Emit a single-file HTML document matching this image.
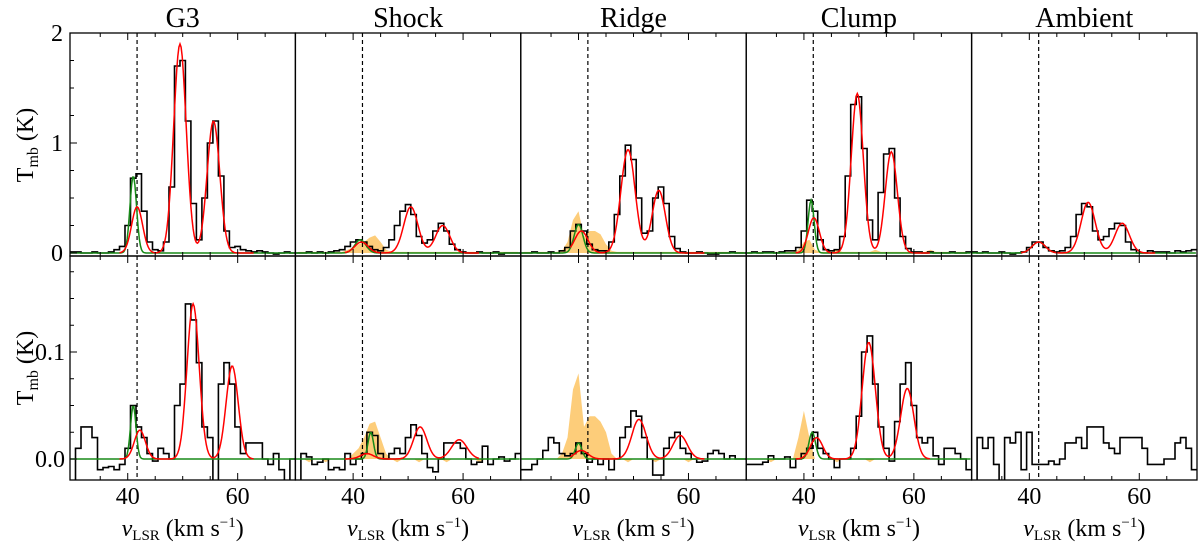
<!DOCTYPE html>
<html><head><meta charset="utf-8"><style>
html,body{margin:0;padding:0;background:#fff}
svg text{font-family:"Liberation Serif","DejaVu Serif","Noto Serif CJK SC",serif !important}
</style></head><body>
<svg id="chart" width="1200" height="547" viewBox="0 0 1200 547" xmlns="http://www.w3.org/2000/svg"></svg>
<script>
const panelNames = ["G3","Shock","Ridge","Clump","Ambient"];
const velocityStart = 30;
const xTicks = [40,60];
const topTicks = [0,1,2];
const botTicks = [0.0,0.1];
const vSys = 41.7;

const topG3 = [0.01,0.01,0.0,0.0,0.01,0.0,0.0,0.01,0.03,0.06,0.25,0.68,0.72,0.38,0.1,0.03,0.02,0.1,0.6,1.7,1.75,1.2,0.45,0.12,0.5,1.0,1.2,0.7,0.2,0.05,0.06,0.03,0.02,0.01,0.02,0.01,0.0,-0.01,0.0,0.01,0.0];
const topShock = [0.0,0.0,0.01,0.0,0.01,0.0,0.01,0.02,0.03,0.06,0.1,0.12,0.1,0.06,0.03,0.02,0.05,0.12,0.25,0.38,0.44,0.35,0.15,0.09,0.12,0.2,0.27,0.2,0.08,0.03,0.01,0.0,0.0,0.01,0.0,0.0,0.01,-0.01,0.0,0.0,0.0];
const topRidge = [0.0,0.0,0.01,0.0,0.0,0.01,0.0,0.02,0.05,0.2,0.26,0.2,0.08,0.03,0.02,0.02,0.1,0.35,0.7,0.98,0.85,0.5,0.18,0.2,0.5,0.6,0.45,0.15,0.04,0.01,0.0,0.0,0.01,0.0,-0.01,-0.01,0.0,0.0,0.01,0.0,0.0];
const topClump = [0.0,0.01,0.0,0.01,0.01,0.0,0.01,0.02,0.02,0.05,0.2,0.48,0.38,0.12,0.03,0.02,0.03,0.15,0.7,1.35,1.42,0.95,0.3,0.12,0.55,0.9,0.95,0.5,0.15,0.04,0.01,0.01,0.0,0.01,0.0,0.0,0.0,0.01,0.0,0.0,0.01];
const topAmbient = [0.01,0.0,0.01,0.0,0.0,0.01,0.0,-0.01,0.0,0.01,0.05,0.1,0.1,0.05,0.02,0.01,0.02,0.05,0.15,0.35,0.45,0.42,0.2,0.12,0.15,0.22,0.27,0.25,0.1,0.03,0.0,0.0,0.02,0.01,0.01,0.01,0.0,0.02,0.01,0.02,0.03];
const botG3 = [-0.02,0.01,0.03,0.03,0.02,-0.01,-0.008,-0.007,-0.01,-0.005,0.01,0.05,0.03,0.02,0.005,-0.002,0.01,0.005,0.0,0.05,0.07,0.145,0.13,0.09,0.03,0.02,-0.02,0.07,0.09,0.07,0.03,0.005,0.015,0.015,0.015,0.0,-0.005,0.005,-0.01,-0.02,0.0];
const botShock = [-0.02,0.005,0.002,-0.005,-0.003,0.0,-0.01,-0.008,-0.01,0.005,-0.005,0.0,0.005,0.025,0.022,0.005,0.0,0.005,0.01,0.005,0.02,0.032,0.022,0.005,-0.008,-0.012,0.0,0.015,0.015,0.015,0.01,0.0,-0.005,-0.003,0.012,-0.005,0.0,0.002,-0.002,0.0,0.005];
const botRidge = [-0.01,-0.01,-0.005,0.0,0.008,0.02,0.015,0.005,0.003,0.005,0.015,0.005,-0.003,0.0,-0.005,0.0,-0.01,0.0,0.02,0.03,0.045,0.04,0.02,0.0,-0.015,-0.015,0.01,0.02,0.025,0.01,0.005,0.0,-0.003,-0.002,0.005,0.008,0.005,0.0,0.003,0.0,0.0];
const botClump = [-0.005,-0.005,-0.005,-0.003,0.003,0.0,0.0,0.002,-0.008,0.0,0.005,0.01,0.025,0.01,0.005,0.0,-0.008,0.0,0.0,0.01,0.04,0.1,0.115,0.07,0.03,0.01,-0.002,0.035,0.07,0.09,0.05,0.02,0.015,0.02,0.003,-0.005,0.01,0.01,0.005,0.0,-0.01];
const botAmbient = [-0.02,0.02,0.01,0.02,-0.005,-0.02,0.02,0.015,0.025,-0.01,0.025,-0.005,-0.005,-0.005,-0.002,-0.005,0.0,0.015,0.015,0.02,0.01,0.03,0.03,0.03,0.015,0.01,0.005,0.02,0.02,0.02,0.02,0.01,-0.005,-0.005,-0.005,0.0,0.0,0.015,0.02,0.01,-0.01];

const orShockTop = [0.01,0.01,0.01,0.01,0.01,0.01,0.01,0.01,0.01,0.03,0.05,0.08,0.1,0.14,0.16,0.1,0.03,0.01,0.01,0.01,0.01,0.01,0.01,0.01,0.01,0.01,0.01,0.01,0.01,0.01,0.01,0.01,0.01,0.01,0.01,0.01,0.01,0.01,0.01,0.01,0.01];
const orRidgeTop = [0.01,0.01,0.01,0.01,0.01,0.01,0.01,0.02,0.1,0.3,0.38,0.15,0.2,0.2,0.17,0.08,0.02,0.01,0.01,0.01,0.01,0.01,0.01,0.01,0.01,0.01,0.01,0.01,0.01,0.01,0.01,0.01,0.01,0.01,0.01,0.01,0.01,0.01,0.01,0.01,0.01];
const orClumpTop = [0.01,0.01,0.01,0.01,0.01,0.01,0.01,0.01,0.01,0.03,0.1,0.12,0.03,0.01,0.01,0.01,0.03,0.01,0.01,0.01,0.01,0.01,0.01,0.03,0.01,0.01,0.01,0.01,0.01,0.01,0.01,0.01,0.01,0.03,0.01,0.01,0.01,0.01,0.01,0.01,0.01];
const orShockBot = [0,0,-0.003,0,0,-0.003,0,0,0,0,0.005,0.01,0.02,0.033,0.035,0.02,0.005,0,-0.003,0,0,0,-0.003,0,0,0,0,-0.003,0,0,0,0,0,-0.003,0,0,0,0,0,0,0];
const orRidgeBot = [0,0,0,0,0,0,0,0.005,0.02,0.065,0.08,0.03,0.04,0.04,0.035,0.025,0.005,0,0,-0.003,0,0,0,0,-0.003,0,0,0,0,0,-0.003,0,0,0,0,0,0,0,0,0,0];
const orClumpBot = [0,0,0,0,-0.003,0,0,0,0,0.02,0.045,0.02,0,0,0,0,-0.003,0,0,0,0,0,-0.003,0,0,0,0,0,0,0,0,0,0,0,0,0,0,0,0,0,0];

const redTop = [
 [[0.42,41.7,1.0],[1.9,49.5,1.15],[1.2,55.6,1.15]],
 [[0.1,41.5,1.2],[0.42,50.5,1.3],[0.25,56.3,1.3]],
 [[0.2,40.5,1.2],[0.94,49.0,1.3],[0.57,54.6,1.2]],
 [[0.32,41.8,1.0],[1.45,49.7,1.1],[0.92,55.9,1.1]],
 [[0.1,41.7,1.2],[0.46,50.7,1.3],[0.27,56.9,1.3]]];
const greenTop = [[0.7,41.0,0.6],[0.12,41.3,1.0],[0.26,40.0,0.8],[0.48,41.3,0.55],[0.1,41.7,1.2]];
const redBot = [
 [[0.027,42.2,1.0],[0.145,51.9,1.1],[0.087,59.0,1.1]],
 [[0.005,42.5,1.2],[0.03,52.2,1.2],[0.018,59.3,1.4]],
 [[0.008,40.5,1.2],[0.037,51.0,1.3],[0.022,58.5,1.3]],
 [[0.02,42.3,1.1],[0.109,51.8,1.2],[0.066,58.8,1.2]],
 null];
const greenBot = [[0.05,41.0,0.5],[0.025,43.2,0.5],[0.015,40.0,0.6],[0.025,41.5,0.6],null];

const topHist=[topG3,topShock,topRidge,topClump,topAmbient];
const botHist=[botG3,botShock,botRidge,botClump,botAmbient];
const orTop=[null,orShockTop,orRidgeTop,orClumpTop,null];
const orBot=[null,orShockBot,orRidgeBot,orClumpBot,null];

const svg=document.getElementById('chart');
const NS='http://www.w3.org/2000/svg';
const FONTSTYLE='font-family:"Liberation Serif","DejaVu Serif",serif';
function el(tag,attrs,parent){const e=document.createElementNS(NS,tag);for(const k in attrs)e.setAttribute(k,attrs[k]);(parent||svg).appendChild(e);return e;}
const PW=225.4, L0=70, VMIN=29.5, VMAX=70.5;
const rows=[{top:33,bot:256,zero:253,scale:110},{top:256,bot:480,zero:459,scale:1070}];
function xs(i,v){return L0+i*PW+(v-VMIN)*PW/(VMAX-VMIN);}
function ys(r,t){return rows[r].zero-t*rows[r].scale;}
function gsum(comps,v){let s=0;for(const c of comps)s+=c[0]*Math.exp(-(v-c[1])*(v-c[1])/(2*c[2]*c[2]));return s;}

const defs=el('defs',{});
for(let r=0;r<2;r++){
 for(let i=0;i<5;i++){
  const R=rows[r];
  const cp=el('clipPath',{id:'c'+r+i},defs);
  el('rect',{x:L0+i*PW,y:R.top,width:PW,height:R.bot-R.top},cp);
  const g=el('g',{'clip-path':'url(#c'+r+i+')'});
  
  
  const hist=r?botHist[i]:topHist[i];
  const or=r?orBot[i]:orTop[i];
  if(or){
   let d='M'+xs(i,velocityStart)+','+ys(r,0);
   or.forEach((t,k)=>{d+='L'+xs(i,velocityStart+k).toFixed(1)+','+ys(r,t).toFixed(1);});
   d+='L'+xs(i,velocityStart+or.length-1)+','+ys(r,0)+'Z';
   const p=el('path',{d:d,fill:'#fdc463',stroke:'none',opacity:0.85},g);
   
   
  }
  const dl=el('line',{x1:xs(i,vSys),x2:xs(i,vSys),y1:R.top,y2:R.bot,stroke:'#000','stroke-width':1.2,'stroke-dasharray':'4,3'},g);
  
  
  let d='';
  hist.forEach((t,k)=>{const v=velocityStart+k;const y=ys(r,t).toFixed(1);
   d+=(k?'L':'M')+xs(i,v-0.5).toFixed(1)+','+y+'L'+xs(i,v+0.5).toFixed(1)+','+y;});
  const h=el('path',{d:d,fill:'none',stroke:'#000','stroke-width':1.6},g);
  
  
  const gc=r?greenBot[i]:greenTop[i];
  if(gc){let d2='';for(let v=VMIN;v<=VMAX;v+=0.2){d2+=(d2?'L':'M')+xs(i,v).toFixed(1)+','+ys(r,gsum([gc],v)).toFixed(1);}
   const p=el('path',{d:d2,fill:'none',stroke:'#188a18','stroke-width':1.5},g);
   
   }
  const rc=r?redBot[i]:redTop[i];
  if(rc){let d2='';for(let v=38.5;v<=63;v+=0.2){d2+=(d2?'L':'M')+xs(i,v).toFixed(1)+','+ys(r,gsum(rc,v)).toFixed(1);}
   const p=el('path',{d:d2,fill:'none',stroke:'#f00','stroke-width':1.5},g);
   
   }
  const fr=el('rect',{x:L0+i*PW,y:R.top,width:PW,height:R.bot-R.top,fill:'none',stroke:'#000','stroke-width':1.3});
  
  
  for(let v=35;v<=65;v+=5){const big=(v%20===0);const len=big?7:4;
   el('line',{x1:xs(i,v),x2:xs(i,v),y1:R.bot,y2:R.bot-len,stroke:'#000','stroke-width':1});
   el('line',{x1:xs(i,v),x2:xs(i,v),y1:R.top,y2:R.top+len,stroke:'#000','stroke-width':1});}
 }
 const R=rows[r];
 const step=r?0.025:0.25;
 for(let t=0;ys(r,t)>R.top-0.5;t+=step){const y=ys(r,t);const big=Math.abs(t/(r?0.1:1)-Math.round(t/(r?0.1:1)))<1e-6;
  el('line',{x1:L0,x2:L0+(big?7:4),y1:y,y2:y,stroke:'#000','stroke-width':1});}
}
panelNames.forEach((n,i)=>{const t=el('text',{x:L0+i*PW+PW/2,y:27,'text-anchor':'middle','font-size':28,style:FONTSTYLE});t.textContent=n;
 
 });
topTicks.forEach(t=>{const e=el('text',{x:63,y:ys(0,t)+8,'text-anchor':'end','font-size':24,style:FONTSTYLE});e.textContent=String(t);
 
 });
botTicks.forEach(t=>{const e=el('text',{x:65,y:ys(1,t)+8,'text-anchor':'end','font-size':24,style:FONTSTYLE});e.textContent=t.toFixed(1);
 
 });
[145,368].forEach(cy=>{const e=el('text',{x:0,y:0,transform:'translate(33,'+cy+') rotate(-90)','text-anchor':'middle','font-size':24,style:FONTSTYLE});
 e.innerHTML='T<tspan font-size="16" dy="5">mb</tspan><tspan dy="-5"> (K)</tspan>';
 
 });
for(let i=0;i<5;i++){
 xTicks.forEach(v=>{const e=el('text',{x:xs(i,v),y:504,'text-anchor':'middle','font-size':24,style:FONTSTYLE});e.textContent=String(v);
  
  });
 const e=el('text',{x:L0+i*PW+PW/2,y:536,'text-anchor':'middle','font-size':24,style:FONTSTYLE});
 e.innerHTML='<tspan font-style="italic">v</tspan><tspan font-size="15" dy="4">LSR</tspan><tspan dy="-4"> (km s</tspan><tspan font-size="15" dy="-9">−1</tspan><tspan dy="9">)</tspan>';
 
 
}
</script>
</body></html>
